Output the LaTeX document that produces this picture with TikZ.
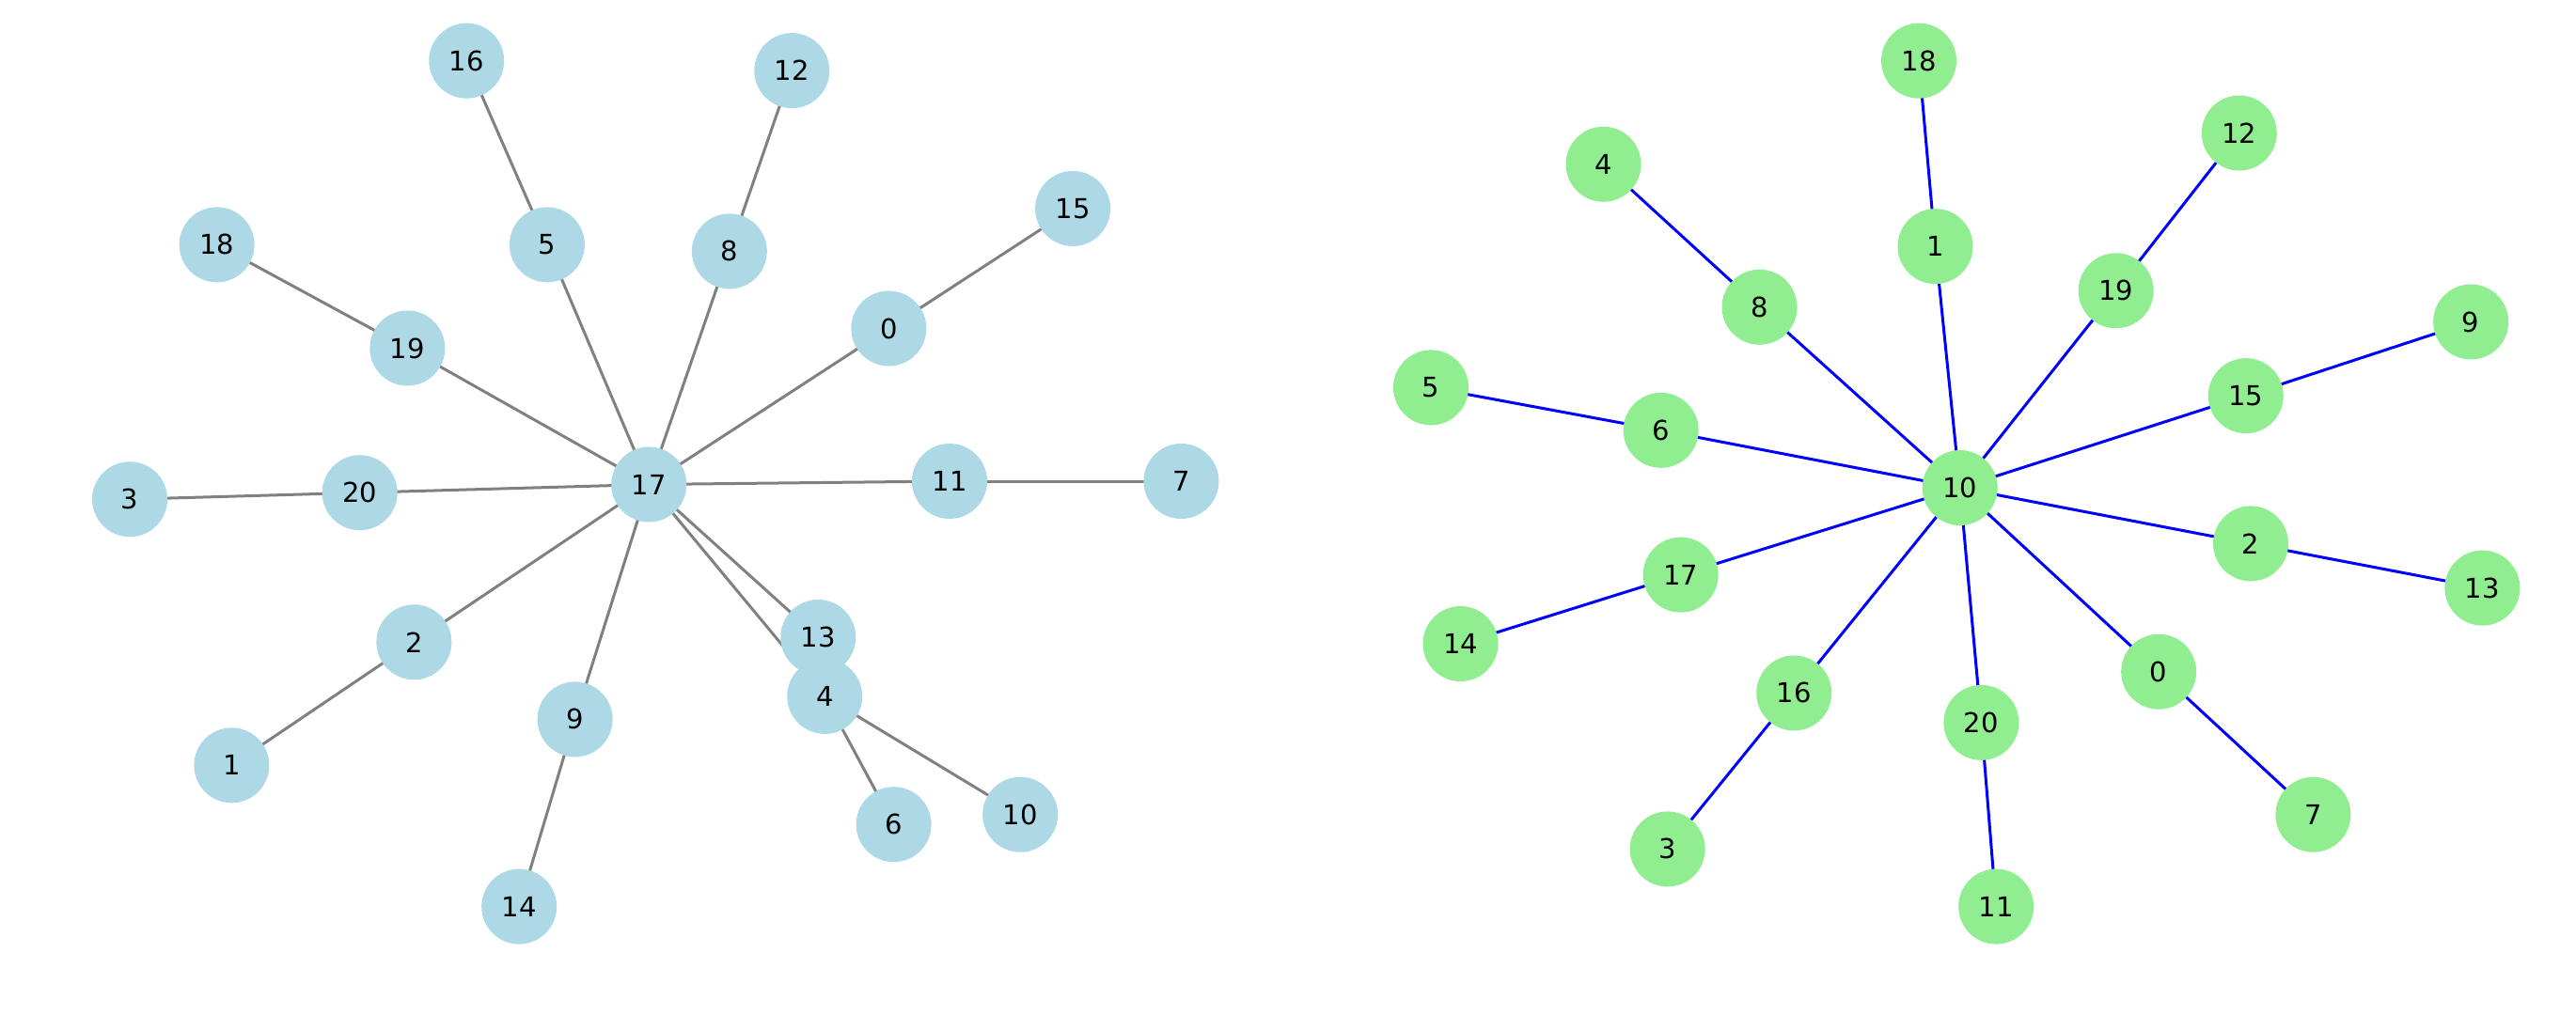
\documentclass[tikz,border=0pt]{standalone}
\usepackage{fontspec}
\setmainfont{DejaVu Sans}
\usetikzlibrary{backgrounds}
\definecolor{lblue}{HTML}{ADD8E6}
\definecolor{lgreen}{HTML}{90EE90}
\tikzset{
  bnode/.style={circle,fill=lblue,minimum size=80pt,inner sep=0pt,font=\fontsize{29}{34}\selectfont},
  gnode/.style={circle,fill=lgreen,minimum size=80pt,inner sep=0pt,font=\fontsize{29}{34}\selectfont},
  gedge/.style={draw=gray,line width=3pt},
  bedge/.style={draw=blue,line width=3pt}
}
\begin{document}
\begin{tikzpicture}[x=1.7474pt,y=-1.7474pt]
\useasboundingbox (0,0) rectangle (1568,618);
% left graph
\node[bnode] (a16) at (284,37) {16};
\node[bnode] (a12) at (482,43) {12};
\node[bnode] (a15) at (653,127) {15};
\node[bnode] (a18) at (132,149) {18};
\node[bnode] (a5) at (333,149) {5};
\node[bnode] (a8) at (444,153) {8};
\node[bnode] (a0) at (541,200) {0};
\node[bnode] (a19) at (248,212) {19};
\node[bnode] (a3) at (79,304) {3};
\node[bnode] (a20) at (219,300) {20};
\node[bnode] (a17) at (395,295) {17};
\node[bnode] (a11) at (578,293) {11};
\node[bnode] (a7) at (719,293) {7};
\node[bnode] (a2) at (252,391) {2};
\node[bnode] (a4) at (502,424) {4};
\node[bnode] (a13) at (498,388) {13};
\node[bnode] (a9) at (350,438) {9};
\node[bnode] (a1) at (141,466) {1};
\node[bnode] (a6) at (544,502) {6};
\node[bnode] (a10) at (621,496) {10};
\node[bnode] (a14) at (316,552) {14};
% right graph
\node[gnode] (b18) at (1168,37) {18};
\node[gnode] (b4) at (976,100) {4};
\node[gnode] (b12) at (1363,81) {12};
\node[gnode] (b1) at (1178,150) {1};
\node[gnode] (b8) at (1071,187) {8};
\node[gnode] (b19) at (1288,177) {19};
\node[gnode] (b9) at (1504,196) {9};
\node[gnode] (b5) at (871,236) {5};
\node[gnode] (b6) at (1011,262) {6};
\node[gnode] (b15) at (1367,241) {15};
\node[gnode] (b10) at (1193,297) {10};
\node[gnode] (b2) at (1370,331) {2};
\node[gnode] (b13) at (1511,358) {13};
\node[gnode] (b17) at (1023,350) {17};
\node[gnode] (b14) at (889,392) {14};
\node[gnode] (b0) at (1314,409) {0};
\node[gnode] (b16) at (1092,422) {16};
\node[gnode] (b20) at (1206,440) {20};
\node[gnode] (b7) at (1408,496) {7};
\node[gnode] (b3) at (1015,517) {3};
\node[gnode] (b11) at (1215,552) {11};
\begin{scope}[on background layer]
\foreach \u/\v in {16/5,5/17,12/8,8/17,15/0,0/17,18/19,19/17,3/20,20/17,17/11,11/7,17/13,17/4,2/17,1/2,9/17,14/9,4/6,4/10}
  \draw[gedge] (a\u.center) -- (a\v.center);
\foreach \u/\v in {18/1,1/10,4/8,8/10,12/19,19/10,9/15,15/10,5/6,6/10,10/2,2/13,10/17,17/14,10/16,16/3,10/20,20/11,10/0,0/7}
  \draw[bedge] (b\u.center) -- (b\v.center);
\end{scope}
\end{tikzpicture}
\end{document}
